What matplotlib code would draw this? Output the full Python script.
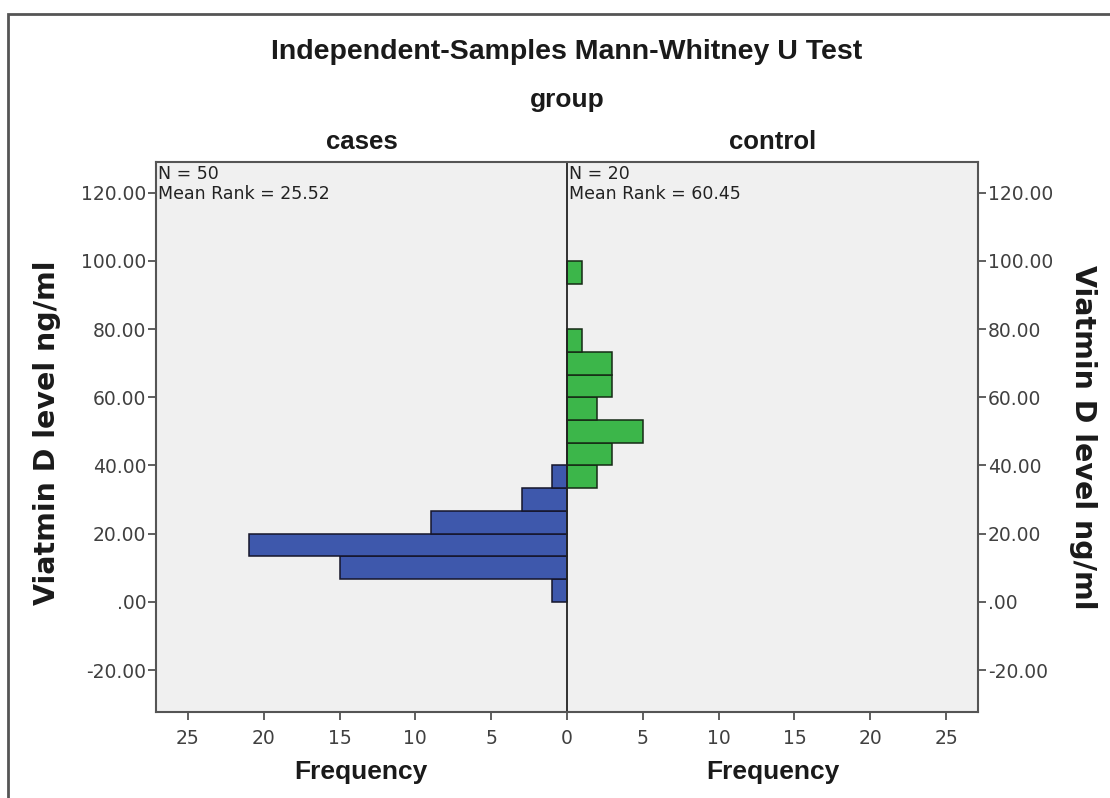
import numpy as np
import matplotlib.pyplot as plt
from matplotlib.patches import Rectangle

# histogram data (Vitamin D level, bins of 6.67 ng/ml)
bin_width = 6.67
cases_bins = [0.0, 6.67, 13.33, 20.0, 26.67, 33.33]
cases_freq = [1, 15, 21, 9, 3, 1]
control_bins = [33.33, 40.0, 46.67, 53.33, 60.0, 66.67, 73.33, 93.33]
control_freq = [2, 3, 5, 2, 3, 3, 1, 1]

cases_text = 'N = 50\nMean Rank = 25.52'
control_text = 'N = 20\nMean Rank = 60.45'

yticks = [-20, 0, 20, 40, 60, 80, 100, 120]
ytick_labels = ['-20.00', '.00', '20.00', '40.00', '60.00', '80.00', '100.00', '120.00']
xticks = [-25, -20, -15, -10, -5, 0, 5, 10, 15, 20, 25]
xtick_labels = [str(abs(v)) for v in xticks]

W, H = 1110, 798
fig = plt.figure(figsize=(W / 100, H / 100), dpi=100)
fig.patch.set_facecolor('white')

# outer frame like the SPSS chart box
fig.patches.append(Rectangle((8 / W, -0.1), 1.2, 1 - 14 / H + 0.1, transform=fig.transFigure,
                             fill=False, edgecolor='#555555', linewidth=2))

ax = fig.add_axes([156 / W, 1 - 712 / H, (978 - 156) / W, (712 - 162) / H])
ax.set_facecolor('#f0f0f0')

ax.barh(cases_bins, [-f for f in cases_freq], height=bin_width, align='edge',
        color='#3e58ac', edgecolor='#15152a', linewidth=1.1)
ax.barh(control_bins, control_freq, height=bin_width, align='edge',
        color='#3cb64a', edgecolor='#152a15', linewidth=1.1)
ax.axvline(0, color='#222222', linewidth=1.3)

ax.set_xlim(-27.1, 27.1)
ax.set_ylim(-32.3, 129)

ax.set_xticks(xticks)
ax.set_xticklabels(xtick_labels)
ax.set_yticks(yticks)
ax.set_yticklabels(ytick_labels)
ax.tick_params(axis='both', direction='out', length=6, width=1.2, color='#444444',
               labelsize=13.5, labelcolor='#404040', pad=1)
ax.tick_params(axis='y', right=True, labelright=True)
ax.tick_params(axis='x', pad=6)
for s in ax.spines.values():
    s.set_color('#555555')
    s.set_linewidth(1.5)

ax.text(-27.0, 128, cases_text, ha='left', va='top', fontsize=12.5, color='#222222',
        linespacing=1.1)
ax.text(0.15, 128, control_text, ha='left', va='top', fontsize=12.5, color='#222222',
        linespacing=1.1)

bold = dict(fontfamily='Liberation Sans', fontweight='bold', color='#1a1a1a')
fig.text(567 / W, 1 - 52 / H, 'Independent-Samples Mann-Whitney U Test', ha='center', va='center',
         fontsize=20.5, **bold)
fig.text(567 / W, 1 - 100 / H, 'group', ha='center', va='center', fontsize=19, **bold)
fig.text(362 / W, 1 - 142 / H, 'cases', ha='center', va='center', fontsize=18.5, **bold)
fig.text(773 / W, 1 - 142 / H, 'control', ha='center', va='center', fontsize=18.5, **bold)
fig.text(361 / W, 1 - 772 / H, 'Frequency', ha='center', va='center', fontsize=19, **bold)
fig.text(773 / W, 1 - 772 / H, 'Frequency', ha='center', va='center', fontsize=19, **bold)

fig.text(47 / W, 1 - 433 / H, 'Viatmin D level ng/ml', ha='center', va='center', rotation=90,
         fontsize=20.5, fontweight='bold', color='#1a1a1a')
fig.text(1083 / W, 1 - 437 / H, 'Viatmin D level ng/ml', ha='center', va='center', rotation=-90,
         fontsize=20.5, fontweight='bold', color='#1a1a1a')

plt.savefig('out.png', dpi=100)
